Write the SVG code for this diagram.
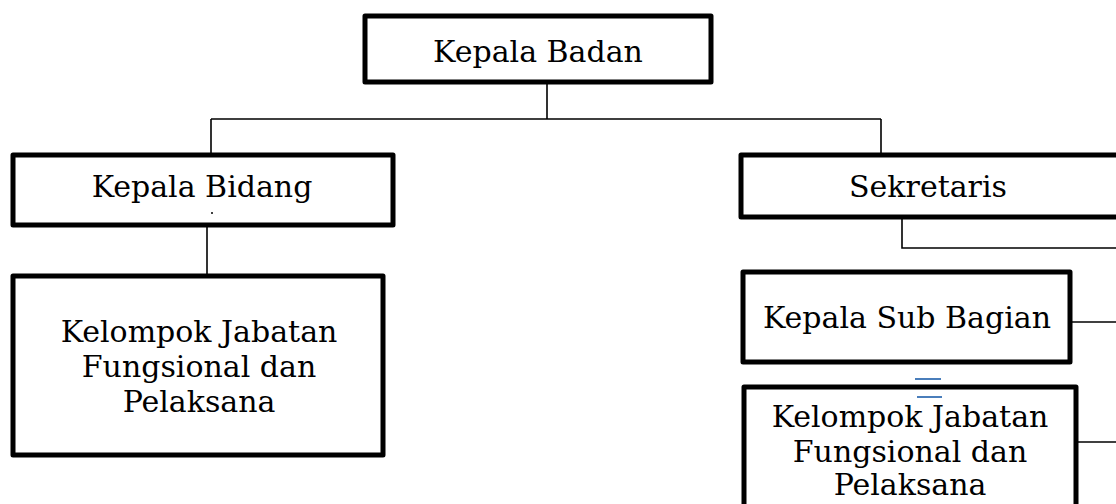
<svg xmlns="http://www.w3.org/2000/svg" width="1116" height="504" viewBox="0 0 1116 504">
<style>
.box{fill:#fff;stroke:#000;stroke-width:5;stroke-linejoin:round}
.ln{fill:none;stroke:#000;stroke-width:1.6}
.t{font-family:"DejaVu Serif","Liberation Serif",serif;font-size:30px;fill:#000;text-anchor:middle}
.blue{stroke:#4a7ebb;stroke-width:2}
</style>
<rect width="1116" height="504" fill="#fff"/>
<g id="connectors">
<path class="ln" d="M547 84V119M211 119H881M211 119V153M881 119V153"/>
<path class="ln" d="M207 226V275"/>
<path class="ln" d="M902 218V248H1116"/>
<path class="ln" d="M1072 322H1116"/>
<path class="ln" d="M1078 442H1116"/>
</g>
<g id="kepala-badan">
<rect class="box" x="365" y="16" width="346" height="66"/>
<text class="t" x="538" y="62">Kepala Badan</text>
</g>
<g id="kepala-bidang">
<rect class="box" x="13" y="155" width="380" height="70"/>
<text class="t" x="202" y="197">Kepala Bidang</text>
</g>
<g id="sekretaris">
<rect class="box" x="741" y="155" width="390" height="62"/>
<text class="t" x="928" y="197">Sekretaris</text>
</g>
<g id="kelompok-kiri">
<rect class="box" x="13" y="276" width="370" height="179"/>
<text class="t" x="199" y="342">Kelompok Jabatan</text>
<text class="t" x="199" y="377">Fungsional dan</text>
<text class="t" x="199" y="412">Pelaksana</text>
</g>
<g id="kepala-sub-bagian">
<rect class="box" x="743" y="272" width="327" height="90"/>
<text class="t" x="907" y="328">Kepala Sub Bagian</text>
</g>
<g id="kelompok-kanan">
<rect class="box" x="744" y="387" width="332" height="130"/>
<text class="t" x="910" y="427">Kelompok Jabatan</text>
<text class="t" x="910" y="462">Fungsional dan</text>
<text class="t" x="910" y="495">Pelaksana</text>
</g>
<g id="marks">
<path class="ln" d="M211 213H213"/>
<path class="blue" d="M915 379H941M917 397H942"/>
</g>
</svg>
